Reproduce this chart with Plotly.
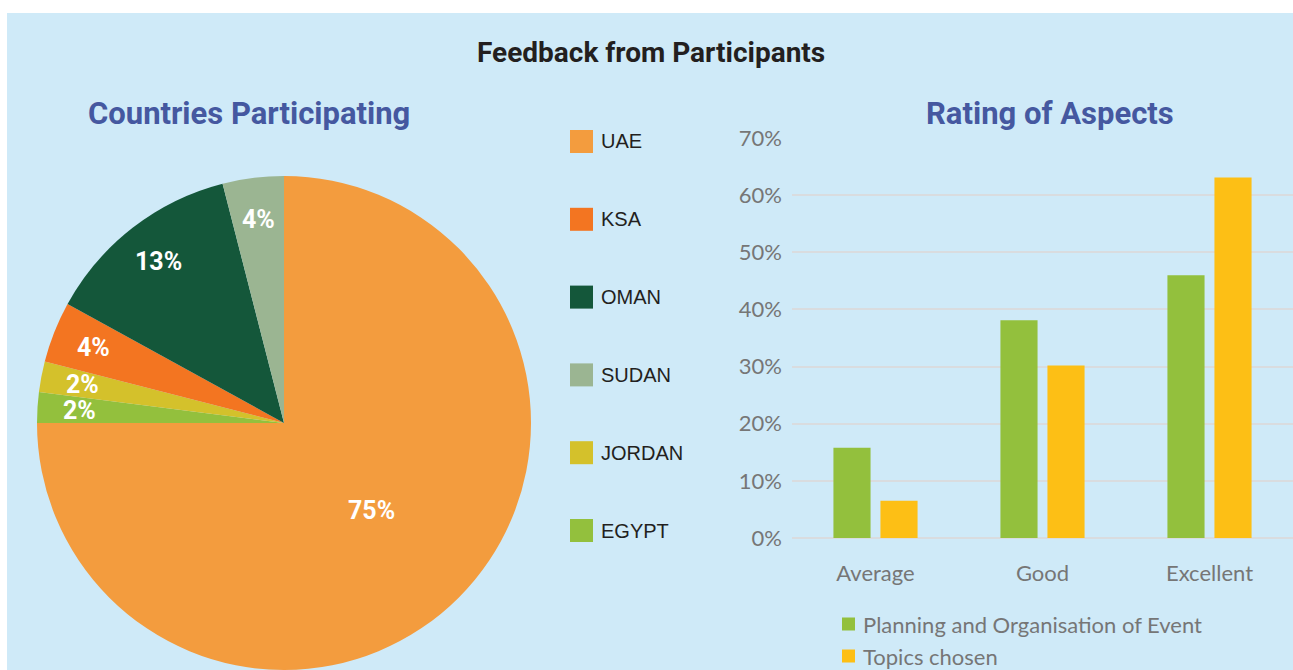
import math
import plotly.graph_objects as go

# ---------------- data ----------------
countries = ["UAE", "EGYPT", "JORDAN", "KSA", "OMAN", "SUDAN"]          # clockwise from 12 o'clock
country_share = [75, 2, 2, 4, 13, 4]
country_colors = ["#F39C3E", "#93C03D", "#D4C12B", "#F37521", "#14573A", "#9BB592"]
legend_order = ["UAE", "KSA", "OMAN", "SUDAN", "JORDAN", "EGYPT"]

ratings = ["Average", "Good", "Excellent"]
planning = [0.158, 0.381, 0.460]
topics = [0.065, 0.302, 0.631]
series_names = ["Planning and Organisation of Event", "Topics chosen"]
series_colors = ["#93C03D", "#FDBF15"]

W, H = 1293, 670
BG = "#CFEAF8"
BLUE = "#4558A0"
GRAY = "#767676"


def px(x):
    return x / W


def py(y):
    return min(1.0, max(0.0, 1 - y / H))


fig = go.Figure()

# ---------------- pie ----------------
cx, cy, R = 284, 423, 247
fig.add_trace(go.Pie(
    labels=countries,
    values=country_share,
    marker=dict(colors=country_colors, line=dict(width=0)),
    sort=False,
    direction="clockwise",
    rotation=0,
    textinfo="none",
    hoverinfo="label+percent",
    showlegend=False,
    domain=dict(x=[px(cx - R), px(cx + R)], y=[py(cy + R), py(cy - R)]),
))

annotations = []
total = sum(country_share)
cum = 0
for lab, v in zip(countries, country_share):
    mid = (cum + v / 2) / total * 2 * math.pi
    cum += v
    rf = 0.5 if v / total > 0.5 else 0.83
    lx = cx + rf * R * math.sin(mid)
    ly = cy - rf * R * math.cos(mid)
    annotations.append(dict(
        x=px(lx), y=py(ly), xref="paper", yref="paper",
        text=f"<b>{round(100 * v / total)}%</b>", showarrow=False,
        font=dict(family="Roboto", size=25, color="white"),
        xanchor="center", yanchor="middle",
    ))

# background panel
shapes = [dict(type="rect", xref="paper", yref="paper",
               x0=px(7), x1=1, y0=0, y1=py(13),
               fillcolor=BG, line=dict(width=0), layer="below")]

# custom pie legend
color_of = dict(zip(countries, country_colors))
for i, lab in enumerate(legend_order):
    yc = 141.5 + i * 77.8
    shapes.append(dict(type="rect", xref="paper", yref="paper",
                       x0=px(570), x1=px(593), y0=py(yc + 11.5), y1=py(yc - 11.5),
                       fillcolor=color_of[lab], line=dict(width=0)))
    annotations.append(dict(
        x=px(599), y=py(yc), xref="paper", yref="paper", text=lab,
        showarrow=False, xanchor="left", yanchor="middle",
        font=dict(family="Liberation Sans, Arial", size=20, color="#231F20"),
    ))

# ---------------- bars ----------------
for name, vals, col in zip(series_names, [planning, topics], series_colors):
    fig.add_trace(go.Bar(
        x=ratings, y=vals, name=name, marker=dict(color=col, line=dict(width=0)),
        showlegend=False, xaxis="x", yaxis="y",
    ))

# bar legend (below the chart)
for i, (name, col) in enumerate(zip(series_names, series_colors)):
    yc = 624 + i * 32
    shapes.append(dict(type="rect", xref="paper", yref="paper",
                       x0=px(842), x1=px(855), y0=py(yc + 6.5), y1=py(yc - 6.5),
                       fillcolor=col, line=dict(width=0)))
    annotations.append(dict(
        x=px(861), y=py(yc), xref="paper", yref="paper", text=name,
        showarrow=False, xanchor="left", yanchor="middle",
        font=dict(family="Lato", size=22, color=GRAY),
    ))

# titles
annotations += [
    dict(x=px(651), y=py(53), xref="paper", yref="paper", showarrow=False,
         text="<b>Feedback from Participants</b>", xanchor="center", yanchor="middle",
         font=dict(family="Roboto", size=28, color="#231F20")),
    dict(x=px(249), y=py(113), xref="paper", yref="paper", showarrow=False,
         text="<b>Countries Participating</b>", xanchor="center", yanchor="middle",
         font=dict(family="Roboto", size=31, color=BLUE)),
    dict(x=px(1050), y=py(113), xref="paper", yref="paper", showarrow=False,
         text="<b>Rating of Aspects</b>", xanchor="center", yanchor="middle",
         font=dict(family="Roboto", size=31, color=BLUE)),
]

fig.update_layout(
    width=W, height=H,
    margin=dict(l=0, r=0, t=0, b=0, pad=0, autoexpand=False),
    paper_bgcolor="white",
    plot_bgcolor="rgba(0,0,0,0)",
    barmode="group",
    bargap=0.437,
    bargroupgap=0.21,
    shapes=shapes,
    annotations=annotations,
    showlegend=False,
    xaxis=dict(
        domain=[px(792), 1.0], range=[-0.5, 2.5], automargin=False,
        showgrid=False, showline=False, zeroline=False,
        tickfont=dict(family="Lato", size=22, color=GRAY),
        ticks="", ticklabelstandoff=20,
    ),
    yaxis=dict(
        domain=[py(538), py(138)], range=[0, 0.70], automargin=False,
        dtick=0.1, tickformat=".0%",
        showgrid=True, gridcolor="#D9DCDF", gridwidth=2,
        zeroline=True, zerolinecolor="#D9DCDF", zerolinewidth=2,
        showline=False, ticks="",
        tickfont=dict(family="Lato", size=22, color=GRAY),
        ticklabelstandoff=9,
    ),
)

fig.write_html(
    "out.html",
    config={"displayModeBar": False},
    post_script=(
        "document.body.style.margin='0';document.body.style.padding='0';"
        "document.body.style.overflow='hidden';"
    ),
)
